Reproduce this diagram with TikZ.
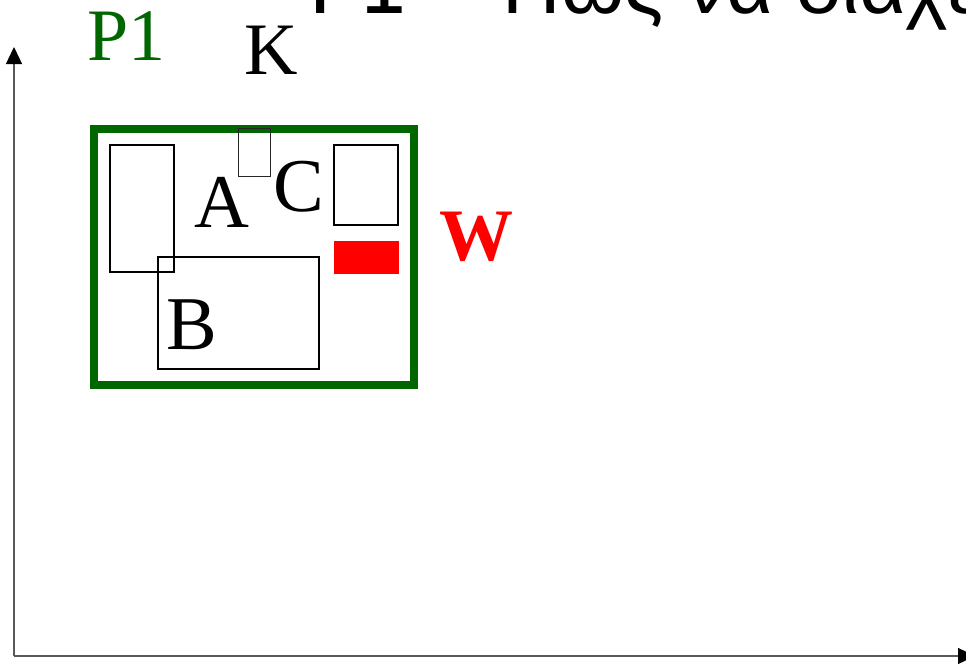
\documentclass[tikz,border=0pt]{standalone}
\usepackage{fontspec}
\setmainfont{Liberation Serif}
\newfontfamily\titlefont{DejaVu Sans}
\newfontfamily\greekfont{Liberation Sans}
\usetikzlibrary{arrows.meta}
\definecolor{pgreen}{RGB}{0,102,0}
\tikzset{
  axis/.style={draw=black!65, line width=1.3pt, -{Triangle[length=17pt,width=16pt,color=black]}},
  box/.style={draw=black, line width=1.4pt},
  thinbox/.style={draw=black!85, line width=1pt},
  lbl/.style={inner sep=0pt, anchor=base west, font=\fontsize{74}{74}\selectfont},
}
\begin{document}
\begin{tikzpicture}[x=1pt,y=-1pt]
\useasboundingbox (0,0) rectangle (966,665);
\clip (0,0) rectangle (966,665);
% title (cut off at top)
\node[inner sep=0pt, anchor=base west, font=\fontsize{82}{82}\selectfont] (title) at (308,13) {\titlefont P1 – \greekfont\fontsize{81}{81}\selectfont Πως να διαχειριστώ};
% axes
\coordinate (origin) at (14,656);
\coordinate (ytop) at (14,47);
\coordinate (xend) at (975,656);
\draw[axis] (origin) -- (ytop);
\draw[axis] (origin) -- (xend);
% green frame
\draw[pgreen, line width=7.5pt] (94,129) rectangle (414,385);
% rectangles
\draw[box] (110,145) rectangle (174,272);
\draw[thinbox] (238.5,128.5) rectangle (270.5,176.5);
\draw[box] (334,145) rectangle (398,225);
\fill[red] (334,241) rectangle (399,274);
\draw[box] (158,257) rectangle (319,369);
% labels
\node[lbl, text=pgreen] (p1) at (87,60) {P1};
\node[lbl] (k) at (244,74) {K};
\node[lbl, font=\fontsize{76}{76}\selectfont] (a) at (194,227) {A};
\node[lbl, font=\fontsize{76}{76}\selectfont] (c) at (273,211) {C};
\node[lbl, font=\fontsize{76}{76}\selectfont] (b) at (166,349) {B};
\node[lbl, text=red, font=\bfseries\fontsize{74}{74}\selectfont] (w) at (439,260) {W};
\end{tikzpicture}
\end{document}
